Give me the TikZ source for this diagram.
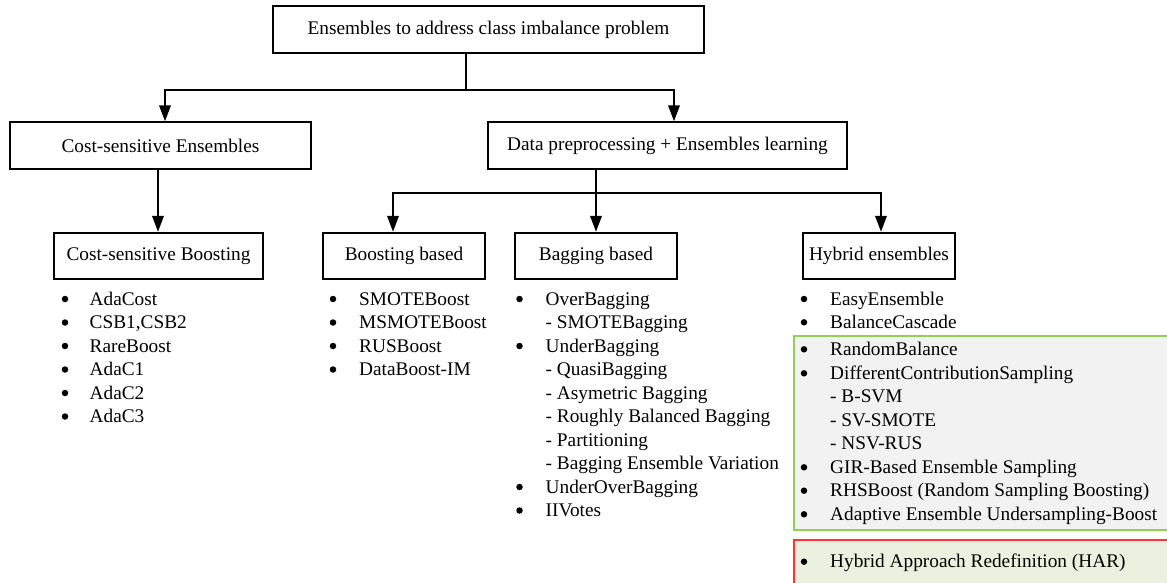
\documentclass[tikz,border=0pt]{standalone}
\usepackage{fontspec}
\setmainfont{Liberation Serif}
\usetikzlibrary{arrows.meta}
\definecolor{gborder}{HTML}{92D050}
\definecolor{gfill}{HTML}{F2F2F2}
\definecolor{rborder}{HTML}{FF3333}
\definecolor{rfill}{HTML}{EBF1DE}
\begin{document}
\begin{tikzpicture}[x=1pt,y=-1pt,
  font=\fontsize{19.3}{23.5}\selectfont,
  box/.style={draw=black, line width=1.9pt, inner sep=0pt, minimum height=46.5pt},
  conn/.style={line width=2pt},
  arr/.style={conn, -{Triangle[length=16pt,width=11.5pt]}},
  itm/.style={anchor=base west, inner sep=0pt},
  bul/.style={circle, fill=black, inner sep=0pt, minimum size=6.5pt},
  greenbox/.style={draw=gborder, fill=gfill, line width=1.8pt, anchor=north west, inner sep=0pt},
  redbox/.style={draw=rborder, fill=rfill, line width=1.8pt, anchor=north west, inner sep=0pt}]
\useasboundingbox (0,0) rectangle (1167,583);
\clip (0,0) rectangle (1167,583);
\fill[white] (0,0) rectangle (1167,583);

% highlight boxes
\node[greenbox, minimum width=400pt, minimum height=194pt] (gbox) at (793,335) {};
\node[redbox, minimum width=400pt, minimum height=80pt] (rbox) at (793,539) {};

% main boxes
\node[box, minimum width=431pt] (top) at (488.5,29.5) {Ensembles to address class imbalance problem};
\node[box, minimum width=301pt] (cse) at (160.5,145.5) {Cost-sensitive Ensembles};
\node[box, minimum width=359pt] (dp) at (667.5,145.5) {Data preprocessing + Ensembles learning};
\node[box, minimum width=209pt] (csb) at (158.5,256) {Cost-sensitive Boosting};
\node[box, minimum width=162pt] (bb) at (404,256) {Boosting based};
\node[box, minimum width=162pt] (bag) at (596,256) {Bagging based};
\node[box, minimum width=152pt] (hy) at (879,256) {Hybrid ensembles};

% connectors
\draw[conn] ([xshift=-22.5pt]top.south) -- ++(0,36) coordinate (j1);
\draw[arr] (j1) -| ([xshift=4.5pt]cse.north);
\draw[arr] (j1) -| ([xshift=6.5pt]dp.north);
\draw[arr] ([xshift=-0.5pt]csb.north |- cse.south) -- ([xshift=-0.5pt]csb.north);
\draw[arr] (bag.north |- dp.south) -- (bag.north);
\coordinate (j2) at ([yshift=-23pt]bag.north |- dp.south);
\draw[arr] (j2) -| ([xshift=-11pt]bb.north);
\draw[arr] (j2) -| ([xshift=2pt]hy.north);

% Cost-sensitive Boosting list
\foreach \t [count=\i] in {AdaCost,{CSB1,CSB2},RareBoost,AdaC1,AdaC2,AdaC3}{
  \node[bul] (csbb\i) at (65,{299+23.5*(\i-1)}) {};
  \node[itm] (csbt\i) at (89.5,{305+23.5*(\i-1)}) {\t};
}

% Boosting based list
\foreach \t [count=\i] in {SMOTEBoost,MSMOTEBoost,RUSBoost,DataBoost-IM}{
  \node[bul] (bbb\i) at (333,{299+23.5*(\i-1)}) {};
  \node[itm] (bbt\i) at (359,{305+23.5*(\i-1)}) {\t};
}

% Bagging based list
\node[bul] (bgb1) at (519.5,299) {};
\node[itm] (bgt1) at (545.5,305) {OverBagging};
\node[itm] (bgt2) at (545.5,328.5) {- SMOTEBagging};
\node[bul] (bgb3) at (519.5,346) {};
\node[itm] (bgt3) at (545.5,352) {UnderBagging};
\node[itm] (bgt4) at (545.5,375.5) {- QuasiBagging};
\node[itm] (bgt5) at (545.5,399) {- Asymetric Bagging};
\node[itm] (bgt6) at (545.5,422.5) {- Roughly Balanced Bagging};
\node[itm] (bgt7) at (545.5,446) {- Partitioning};
\node[itm] (bgt8) at (545.5,469.5) {- Bagging Ensemble Variation};
\node[bul] (bgb9) at (519.5,487) {};
\node[itm] (bgt9) at (545.5,493) {UnderOverBagging};
\node[bul] (bgb10) at (519.5,510.5) {};
\node[itm] (bgt10) at (545.5,516.5) {IIVotes};

% Hybrid list
\node[bul] (hyb1) at (804,299) {};
\node[itm] (hyt1) at (830,305) {EasyEnsemble};
\node[bul] (hyb2) at (804,322.3) {};
\node[itm] (hyt2) at (830,328.3) {BalanceCascade};
\node[bul] (hyb3) at (804,349.3) {};
\node[itm] (hyt3) at (830,355.3) {RandomBalance};
\node[bul] (hyb4) at (804,373.3) {};
\node[itm] (hyt4) at (830,379.3) {DifferentContributionSampling};
\node[itm] (hyt5) at (830,402.7) {- B-SVM};
\node[itm] (hyt6) at (830,426) {- SV-SMOTE};
\node[itm] (hyt7) at (830,449.3) {- NSV-RUS};
\node[bul] (hyb8) at (804,467.3) {};
\node[itm] (hyt8) at (830,473.3) {GIR-Based Ensemble Sampling};
\node[bul] (hyb9) at (804,490.7) {};
\node[itm] (hyt9) at (830,496.7) {RHSBoost (Random Sampling Boosting)};
\node[bul] (hyb10) at (804,514.3) {};
\node[itm] (hyt10) at (830,520.3) {Adaptive Ensemble Undersampling-Boost};
\node[bul] (hyb11) at (804,561.7) {};
\node[itm] (hyt11) at (830,567.7) {Hybrid Approach Redefinition (HAR)};
\end{tikzpicture}
\end{document}
